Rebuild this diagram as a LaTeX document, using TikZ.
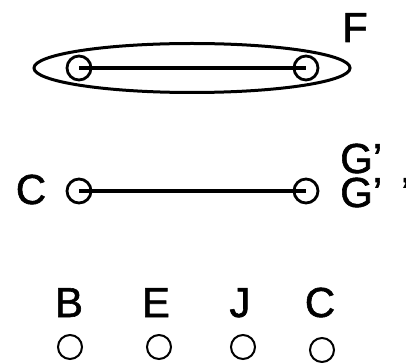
\documentclass[tikz,border=0pt]{standalone}
\usepackage{fontspec}
\setmainfont{Liberation Sans}
\newfontfamily\lblfont{Liberation Sans}[FakeBold=1.4]
\usetikzlibrary{shapes.geometric}
\begin{document}
\begin{tikzpicture}[x=1pt,y=-1pt,
  dot/.style={draw, circle, line width=2.8pt, minimum size=24pt, inner sep=0pt},
  vtx/.style={draw, circle, line width=2pt, minimum size=24pt, inner sep=0pt},
  lbl/.style={inner sep=0pt, font=\lblfont\fontsize{42}{50}\selectfont},
  edge/.style={line width=4.5pt}]
\useasboundingbox (0,0) rectangle (406,363);
\node[draw, ellipse, line width=3pt, minimum width=316pt, minimum height=49pt] (fset) at (192,68) {};
\node[dot] (f1) at (79,68) {};
\node[dot] (f2) at (306,68) {};
\node[lbl, anchor=base] (lf) at (355,42) {F};
\path[draw,edge] (f1.center) -- (f2.center);
\node[dot] (c1) at (79,191) {};
\node[dot] (g1) at (306,191) {};
\node[lbl, anchor=base] (lc) at (31,204) {C};
\node[lbl, anchor=base west] (lg1) at (340,173) {G’};
\node[lbl, anchor=base west] (lg2) at (340,207) {G’\kern0.45em’};
\path[draw,edge] (c1.center) -- (g1.center);
\node[vtx] (pb) at (70,347) {};
\node[vtx] (pe) at (159,347) {};
\node[vtx] (pj) at (243,347) {};
\node[vtx] (pc) at (322,350) {};
\node[lbl, anchor=base] (lb) at (69,317) {B};
\node[lbl, anchor=base] (le) at (156,317) {E};
\node[lbl, anchor=base] (lj) at (240,317) {J};
\node[lbl, anchor=base] (lc2) at (320,317) {C};
\end{tikzpicture}
\end{document}
